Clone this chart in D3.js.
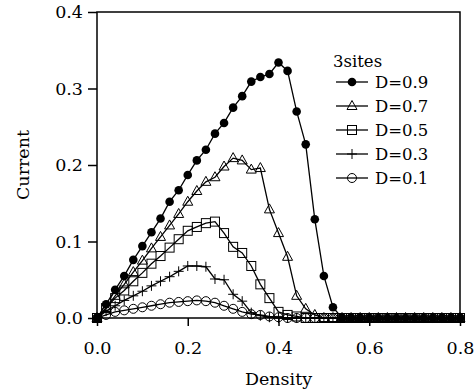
<!DOCTYPE html>
<html>
<head>
<meta charset="utf-8">
<title>Current vs Density</title>
<style>
  body { margin: 0; background: #fff; }
  text { font-family: 'DejaVu Serif', serif; fill: #000; }
</style>
<script src="https://d3js.org/d3.v7.min.js"></script>
</head>
<body>
<svg id="chart" width="476" height="392"></svg>
<script>
// density grid shared by every series
var density = [0, 0.02, 0.04, 0.06, 0.08, 0.10, 0.12, 0.14, 0.16, 0.18,
               0.20, 0.22, 0.24, 0.26, 0.28, 0.30, 0.32, 0.34, 0.36, 0.38,
               0.40, 0.42, 0.44, 0.46, 0.48, 0.50, 0.52, 0.54, 0.56, 0.58,
               0.60, 0.62, 0.64, 0.66, 0.68, 0.70, 0.72, 0.74, 0.76, 0.78, 0.80];

var d09 = [0, 0.018, 0.037, 0.055, 0.076, 0.094, 0.112, 0.130, 0.152, 0.167,
           0.187, 0.206, 0.220, 0.241, 0.255, 0.275, 0.290, 0.309, 0.315, 0.319,
           0.334, 0.323, 0.270, 0.227, 0.129, 0.055, 0.014, 0, 0, 0,
           0, 0, 0, 0, 0, 0, 0, 0, 0, 0, 0];
var d07 = [0, 0.013, 0.029, 0.044, 0.060, 0.075, 0.091, 0.106, 0.121, 0.136,
           0.152, 0.166, 0.178, 0.184, 0.198, 0.209, 0.206, 0.194, 0.196, 0.142,
           0.111, 0.080, 0.029, 0.012, 0.004, 0, 0, 0, 0, 0,
           0, 0, 0, 0, 0, 0, 0, 0, 0, 0, 0];
var d05 = [0, 0.013, 0.026, 0.036, 0.048, 0.059, 0.071, 0.081, 0.092, 0.103,
           0.114, 0.119, 0.124, 0.126, 0.111, 0.093, 0.085, 0.068, 0.044, 0.026,
           0.008, 0.004, 0.002, 0, 0, 0, 0, 0, 0, 0,
           0, 0, 0, 0, 0, 0, 0, 0, 0, 0, 0];
var d03 = [0, 0.009, 0.016, 0.023, 0.029, 0.035, 0.042, 0.048, 0.054, 0.061,
           0.068, 0.068, 0.067, 0.051, 0.050, 0.031, 0.022, 0.007, 0.003, 0.001,
           0, 0, 0, 0, 0, 0, 0, 0, 0, 0,
           0, 0, 0, 0, 0, 0, 0, 0, 0, 0, 0];
var d01 = [0, 0.004, 0.008, 0.010, 0.012, 0.014, 0.016, 0.018, 0.020, 0.021,
           0.022, 0.023, 0.022, 0.020, 0.016, 0.012, 0.008, 0.005, 0.004, 0.002,
           0.001, 0, 0, 0, 0, 0, 0, 0, 0, 0,
           0, 0, 0, 0, 0, 0, 0, 0, 0, 0, 0];

var seriesNames = ["D=0.9", "D=0.7", "D=0.5", "D=0.3", "D=0.1"];
var seriesVals = [d09, d07, d05, d03, d01];
var markers = ["dot", "triangle", "square", "plus", "circle"];
var xTicks = [0, 0.2, 0.4, 0.6, 0.8];
var yTicks = [0, 0.1, 0.2, 0.3, 0.4];

(function() {
  var mLeft = 97, mRight = 460, mTop = 12, mBottom = 318;
  var svg = d3.select("#chart");

  var x = d3.scaleLinear().domain([0, 0.8]).range([mLeft, mRight]);
  var y = d3.scaleLinear().domain([0, 0.4]).range([mBottom, mTop]);

  // axes
  var xAxis = svg.append("g").attr("transform", "translate(0," + mBottom + ")")
    .call(d3.axisBottom(x).tickValues(xTicks).tickFormat(d3.format(".1f")).tickSize(8).tickSizeOuter(0));
  var yAxis = svg.append("g").attr("transform", "translate(" + mLeft + ",0)")
    .call(d3.axisLeft(y).tickValues(yTicks).tickFormat(d3.format(".1f")).tickSize(9).tickSizeOuter(0));
  [xAxis, yAxis].forEach(function(a) {
    a.select(".domain").remove();
    a.selectAll("line").attr("stroke", "#000").attr("stroke-width", 1.5);
    a.selectAll("text").attr("font-family", "DejaVu Serif").attr("font-size", 17.5).attr("fill", "#000");
  });
  xAxis.selectAll("text").attr("y", 24).attr("dy", "0.71em");
  yAxis.selectAll("text").attr("x", -14);

  // frame
  svg.append("rect").attr("x", mLeft).attr("y", mTop)
    .attr("width", mRight - mLeft).attr("height", mBottom - mTop)
    .attr("fill", "none").attr("stroke", "#000").attr("stroke-width", 1.5);

  svg.append("text").attr("x", (mLeft + mRight) / 2).attr("y", 385)
    .attr("text-anchor", "middle").attr("font-size", 17.5).text("Density");
  svg.append("text").attr("transform", "translate(29," + ((mTop + mBottom) / 2) + ") rotate(-90)")
    .attr("text-anchor", "middle").attr("font-size", 17.5).text("Current");

  function drawMarker(g, kind) {
    if (kind === "dot") {
      g.append("circle").attr("r", 4.3).attr("fill", "#000");
    } else if (kind === "circle") {
      g.append("circle").attr("r", 4.5).attr("fill", "none").attr("stroke", "#000").attr("stroke-width", 1);
    } else if (kind === "triangle") {
      g.append("path").attr("d", "M0,-5.5L5,3.5L-5,3.5Z").attr("fill", "none").attr("stroke", "#000").attr("stroke-width", 1);
    } else if (kind === "square") {
      g.append("rect").attr("x", -4.5).attr("y", -4.5).attr("width", 9).attr("height", 9)
        .attr("fill", "none").attr("stroke", "#000").attr("stroke-width", 1);
    } else if (kind === "plus") {
      g.append("path").attr("d", "M-5,0H5M0,-5V5").attr("stroke", "#000").attr("stroke-width", 1);
    }
  }

  var line = d3.line().x(function(d) { return x(d[0]); }).y(function(d) { return y(d[1]); });

  // draw lowest first so the filled dots sit on top
  for (var s = seriesVals.length - 1; s >= 0; s--) {
    var pts = density.map(function(dx, i) { return [dx, seriesVals[s][i]]; });
    svg.append("path").datum(pts).attr("d", line)
      .attr("fill", "none").attr("stroke", "#000").attr("stroke-width", 1.3);
    var g = svg.append("g");
    pts.forEach(function(p) {
      var m = g.append("g").attr("transform", "translate(" + x(p[0]) + "," + y(p[1]) + ")");
      drawMarker(m, markers[s]);
    });
  }

  // legend
  var lg = svg.append("g");
  lg.append("text").attr("x", 333).attr("y", 67).attr("font-size", 16.5).text("3sites");
  seriesNames.forEach(function(name, i) {
    var ly = 82 + i * 24;
    lg.append("line").attr("x1", 336).attr("x2", 368).attr("y1", ly).attr("y2", ly)
      .attr("stroke", "#000").attr("stroke-width", 1.3);
    var m = lg.append("g").attr("transform", "translate(352," + ly + ")");
    drawMarker(m, markers[i]);
    lg.append("text").attr("x", 375).attr("y", ly + 6).attr("font-size", 16.5).text(name);
  });
})();
</script>
</body>
</html>
